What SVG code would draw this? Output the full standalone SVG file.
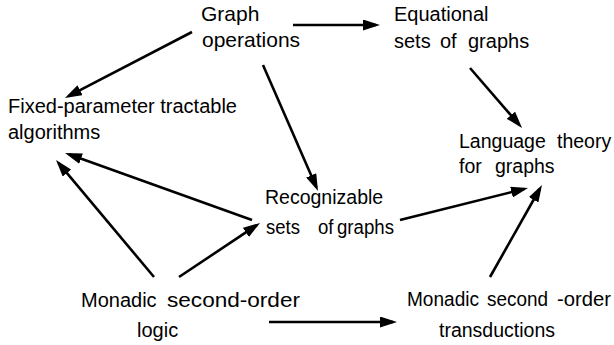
<svg xmlns="http://www.w3.org/2000/svg" width="614" height="345" viewBox="0 0 614 345">
<style>
text{font-family:"Liberation Sans",Arial,sans-serif;font-size:19.5px;fill:#000}
.f20{font-size:20px}
.f21{font-size:21px}
.c line{stroke:#000;stroke-width:2.6;marker-end:url(#ah)}
</style>
<defs>
<marker id="ah" markerUnits="userSpaceOnUse" markerWidth="17" markerHeight="11" refX="13" refY="5.5" orient="auto" viewBox="0 0 17 11"><path d="M0,0 L17,5.5 L0,11 Z" fill="#000"/></marker>
</defs>
<rect width="614" height="345" fill="#fff"/>
<g id="graph-operations"><text class="f21" x="201" y="21">Graph</text><text class="f21" x="202" y="47">operations</text></g>
<g id="equational"><text class="f20" x="394" y="21">Equational</text><text class="f20" x="394" y="48">sets</text><text class="f20" x="440" y="48">of</text><text class="f20" x="468" y="48">graphs</text></g>
<g id="fpt"><text class="f20" x="8" y="113">Fixed-parameter tractable</text><text class="f20" x="8" y="139">algorithms</text></g>
<g id="language"><text x="459" y="148">Language</text><text x="557" y="148">theory</text><text x="459" y="173">for</text><text x="495" y="173">graphs</text></g>
<g id="recognizable"><text x="265" y="204">Recognizable</text><text x="266" y="234" textLength="34" lengthAdjust="spacingAndGlyphs">sets</text><text x="318" y="234" textLength="15.5" lengthAdjust="spacingAndGlyphs">of</text><text x="337" y="234" textLength="57" lengthAdjust="spacingAndGlyphs">graphs</text></g>
<g id="mso-logic"><text class="f20" x="81" y="307">Monadic</text><text class="f20" x="167" y="307" textLength="133" lengthAdjust="spacingAndGlyphs">second-order</text><text class="f20" x="137" y="337">logic</text></g>
<g id="mso-transductions"><text x="407" y="306" textLength="72" lengthAdjust="spacingAndGlyphs">Monadic</text><text x="487" y="306" textLength="61" lengthAdjust="spacingAndGlyphs">second</text><text x="557" y="306" textLength="54" lengthAdjust="spacingAndGlyphs">-order</text><text x="439" y="337">transductions</text></g>
<g id="connectors" class="c">
<line x1="293" y1="25" x2="376" y2="25"/>
<line x1="192" y1="32" x2="68.5" y2="96.2"/>
<line x1="263" y1="65" x2="316.4" y2="187.3"/>
<line x1="470" y1="68" x2="519.4" y2="125"/>
<line x1="252" y1="220" x2="68.8" y2="154.3"/>
<line x1="154" y1="277" x2="58.6" y2="163.1"/>
<line x1="179" y1="277" x2="256.7" y2="225.2"/>
<line x1="400" y1="220" x2="524.1" y2="189"/>
<line x1="490" y1="277" x2="540" y2="188.5"/>
<line x1="269" y1="322" x2="393" y2="322"/>
</g>
</svg>
